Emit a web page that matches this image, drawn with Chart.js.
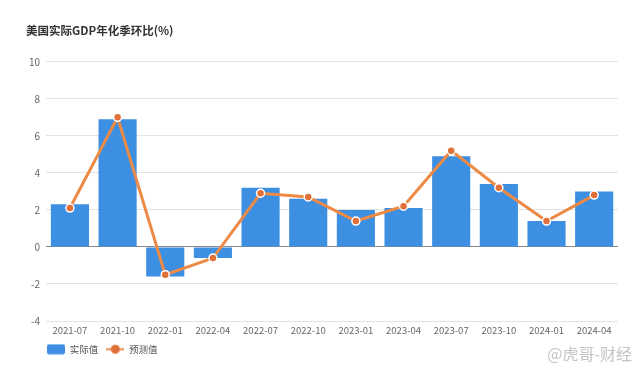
<!DOCTYPE html>
<html>
<head>
<meta charset="utf-8">
<script src="https://cdn.jsdelivr.net/npm/chart.js@4/dist/chart.umd.min.js"></script>
<style>
    html, body { margin: 0; padding: 0; background: #fff; }
    #wrap { position: relative; width: 640px; height: 370px; }
    #mark { position: absolute; right: 8px; bottom: 5px; font: 16px "Noto Sans CJK SC", sans-serif; color: #c4c4c4; }
</style>
</head>
<body>
<div id="wrap">
    <canvas id="chart" width="640" height="370"></canvas>
    <div id="mark">@虎哥-财经</div>
</div>
<script>
// Quarter labels
const quarters = ['2021-07', '2021-10', '2022-01', '2022-04', '2022-07', '2022-10',
                  '2023-01', '2023-04', '2023-07', '2023-10', '2024-01', '2024-04'];

// Actual annualized QoQ real GDP (%)
const actualValues = [2.3, 6.9, -1.6, -0.6, 3.2, 2.6, 2.0, 2.1, 4.9, 3.4, 1.4, 3.0];

// Forecast values (%)
const forecastValues = [2.1, 7.0, -1.5, -0.6, 2.9, 2.7, 1.4, 2.2, 5.2, 3.2, 1.4, 2.8];

const blue = '#3d8fe2';
const orange = '#ec8a46';
const fontFamily = '"Noto Sans CJK SC", "Noto Sans", sans-serif';

// Legend swatches drawn on small canvases
function barSwatch() {
    const c = document.createElement('canvas');
    c.width = 18; c.height = 11;
    const g = c.getContext('2d');
    g.fillStyle = blue;
    g.beginPath();
    g.roundRect(0, 0.5, 18, 10, 2);
    g.fill();
    return c;
}

function lineSwatch() {
    const c = document.createElement('canvas');
    c.width = 18; c.height = 11;
    const g = c.getContext('2d');
    g.strokeStyle = orange;
    g.lineWidth = 2;
    g.beginPath();
    g.moveTo(0, 5.5); g.lineTo(18, 5.5);
    g.stroke();
    g.fillStyle = '#e07038';
    g.beginPath();
    g.arc(9, 5.5, 4.5, 0, Math.PI * 2);
    g.fill();
    return c;
}

const swatches = [barSwatch(), lineSwatch()];

// Nudge title and legend to line up with the reference
const nudge = {
    id: 'nudge',
    beforeDraw: function(chart) {
        if (!chart._nudged) {
            chart.legend.left += 16;
            chart.legend.right += 16;
            chart.legend.top -= 4;
            chart.legend.bottom -= 4;
            chart.titleBlock.left += 3;
            chart.titleBlock.right += 3;
            chart._nudged = true;
        }
    }
};

new Chart(document.getElementById('chart'), {
    data: {
        labels: quarters,
        datasets: [
            {
                type: 'line',
                label: '预测值',
                data: forecastValues,
                borderColor: orange,
                borderWidth: 3,
                pointRadius: 4,
                pointBackgroundColor: '#e07038',
                pointBorderColor: '#ffffff',
                pointBorderWidth: 1.5,
                tension: 0,
                order: 1
            },
            {
                type: 'bar',
                label: '实际值',
                data: actualValues,
                backgroundColor: blue,
                categoryPercentage: 0.8,
                barPercentage: 1.0,
                order: 2
            }
        ]
    },
    options: {
        responsive: false,
        animation: false,
        layout: { padding: { left: 23, right: 22, top: 0, bottom: 2 } },
        scales: {
            x: {
                grid: { display: false, drawTicks: false, tickLength: 0 },
                border: { display: false },
                ticks: { color: '#666', font: { family: fontFamily, size: 9.5, lineHeight: 1 }, padding: 5 }
            },
            y: {
                min: -4,
                max: 10,
                ticks: {
                    stepSize: 2,
                    color: '#666',
                    font: { family: fontFamily, size: 10 },
                    padding: 6
                },
                border: { display: false },
                grid: {
                    drawTicks: false,
                    color: function(ctx) {
                        return ctx.tick && ctx.tick.value === 0 ? '#8a8a8a' : '#e2e2e2';
                    },
                    lineWidth: 1
                }
            }
        },
        plugins: {
            title: {
                display: true,
                text: '美国实际GDP年化季环比(%)',
                align: 'start',
                color: '#333',
                font: { family: fontFamily, size: 11.5, weight: 'bold' },
                padding: { top: 24, bottom: 24 }
            },
            legend: {
                position: 'bottom',
                align: 'start',
                reverse: true,
                labels: {
                    usePointStyle: true,
                    pointStyleWidth: 18,
                    boxHeight: 11,
                    color: '#555',
                    font: { family: fontFamily, size: 9.5 },
                    padding: 8,
                    generateLabels: function(chart) {
                        return chart.data.datasets.map(function(ds, i) {
                            return {
                                text: ds.label,
                                datasetIndex: i,
                                pointStyle: ds.type === 'bar' ? swatches[0] : swatches[1],
                                fontColor: '#555',
                                hidden: false
                            };
                        });
                    }
                }
            },
            tooltip: { enabled: false }
        }
    },
    plugins: [nudge]
});
</script>
</body>
</html>
